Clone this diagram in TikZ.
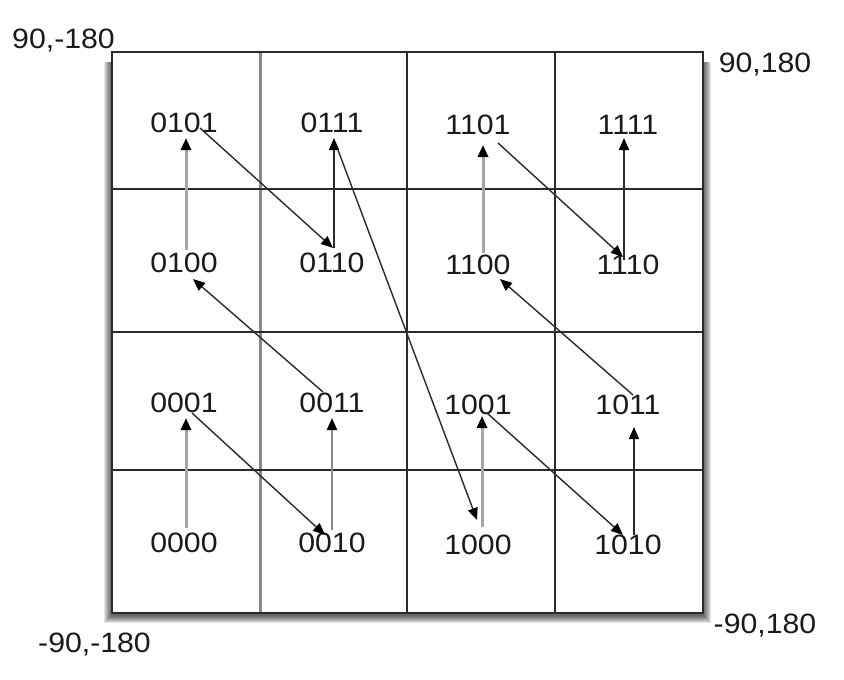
\documentclass[tikz,border=0pt]{standalone}
\usepackage{fontspec}
\setmainfont{Liberation Sans}[FakeStretch=1.08]
\usetikzlibrary{arrows.meta,calc}
\definecolor{txt}{HTML}{1A1A1A}
\definecolor{lgray}{HTML}{A5A5A5}
\definecolor{mgray}{HTML}{888888}
\definecolor{lin}{HTML}{2A2A2A}
\begin{document}
\begin{tikzpicture}[x=1pt,y=-1pt,
  lbl/.style={font=\fontsize{28}{32}\selectfont, text=txt, inner sep=0pt},
  corner/.style={lbl, anchor=base},
  arr/.style={line width=1.4pt, draw=lin, -{Triangle[length=12pt,width=10pt,color=black]}},
  garr/.style={arr, line width=3pt, draw=lgray},
  marr/.style={arr, line width=2pt, draw=mgray},
  gridthin/.style={line width=1.8pt, draw=lin},
  gridgray/.style={line width=3pt, draw=mgray},
  frame/.style={line width=2.2pt, draw=lin}]
\useasboundingbox (0,0) rectangle (844,680);
\fill[white] (0,0) rectangle (844,680);
% shadow
\foreach \k in {1,...,8}
  \fill[black,opacity=0.1] (112-\k,62) rectangle (703+\k,615+\k);
\fill[white] (112,52) rectangle (703,613);
% grid
\draw[gridgray] (260,52) -- (260,613);
\draw[gridthin] (407,52) -- (407,613);
\draw[gridthin] (555,52) -- (555,613);
\draw[gridthin] (112,189) -- (703,189);
\draw[gridthin] (112,332) -- (703,332);
\draw[gridthin] (112,470) -- (703,470);
\draw[frame] (112,52) rectangle (703,613);
% corner labels
\node[corner] (c1) at (63.5,48) {90,-180};
\node[corner] (c2) at (765,72) {90,180};
\node[corner] (c3) at (94.5,652) {-90,-180};
\node[corner] (c4) at (765,633) {-90,180};
% cell labels
\node[lbl] (n0101) at (184,123) {0101};
\node[lbl] (n0111) at (332,123) {0111};
\node[lbl] (n1101) at (478,125) {1101};
\node[lbl] (n1111) at (628,125) {1111};
\node[lbl] (n0100) at (184,263) {0100};
\node[lbl] (n0110) at (332,263) {0110};
\node[lbl] (n1100) at (478,265) {1100};
\node[lbl] (n1110) at (628,265) {1110};
\node[lbl] (n0001) at (184,403) {0001};
\node[lbl] (n0011) at (332,403) {0011};
\node[lbl] (n1001) at (478,405) {1001};
\node[lbl] (n1011) at (628,405) {1011};
\node[lbl] (n0000) at (184,543) {0000};
\node[lbl] (n0010) at (332,543) {0010};
\node[lbl] (n1000) at (478,545) {1000};
\node[lbl] (n1010) at (628,545) {1010};
% Z-order arrows
\draw[garr] ($(n0000)+(2,-15)$) -- ($(n0001)+(2,15)$);
\draw[arr]  ($(n0001)+(8,10)$) -- ($(n0010)+(-7,-8)$);
\draw[marr] ($(n0010)+(0,-13)$) -- ($(n0011)+(0,15)$);
\draw[arr]  ($(n0011)+(-9,-11)$) -- ($(n0100)+(9,16)$);
\draw[garr] ($(n0100)+(2,-13)$) -- ($(n0101)+(2,15)$);
\draw[arr]  ($(n0101)+(16,5)$) -- ($(n0110)+(1,-15)$);
\draw[arr]  ($(n0110)+(2,-15)$) -- ($(n0111)+(2,15)$);
\draw[arr]  ($(n0111)+(6,27)$) -- ($(n1000)+(-1,-25)$);
\draw[garr] ($(n1000)+(4,-18)$) -- ($(n1001)+(4,11)$);
\draw[arr]  ($(n1001)+(9,8)$) -- ($(n1010)+(-5,-10)$);
\draw[arr]  ($(n1010)+(6,-10)$) -- ($(n1011)+(6,22)$);
\draw[arr]  ($(n1011)+(5,-10)$) -- ($(n1100)+(22,14)$);
\draw[garr] ($(n1100)+(5,-12)$) -- ($(n1101)+(5,20)$);
\draw[arr]  ($(n1101)+(20,18)$) -- ($(n1110)+(-5,-8)$);
\draw[arr]  ($(n1110)+(-4,-5)$) -- ($(n1111)+(-4,13)$);
\end{tikzpicture}
\end{document}
